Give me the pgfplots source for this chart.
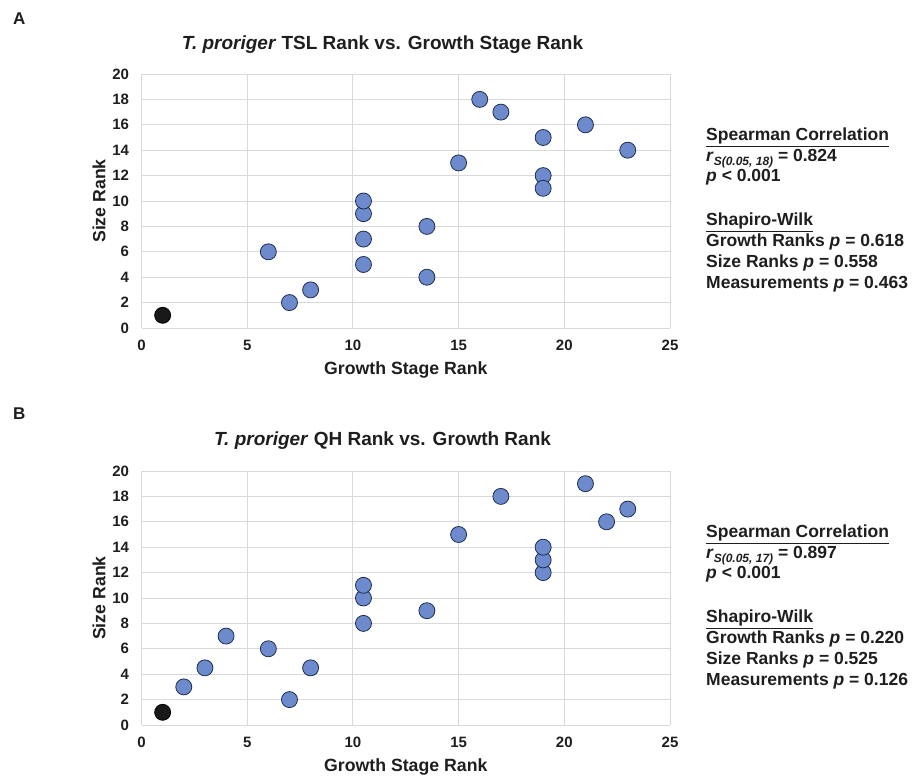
\documentclass[border=0pt]{standalone}
\usepackage{pgfplots}
\pgfplotsset{compat=1.18}
\usepackage{fontspec}
\setmainfont{Liberation Sans}
\definecolor{ptfill}{RGB}{108,138,204}
\definecolor{ptedge}{RGB}{30,45,80}
\definecolor{gridc}{RGB}{217,217,217}
\definecolor{txt}{RGB}{30,30,30}
\newcommand{\fs}[1]{\fontsize{#1}{#1}\selectfont}
\pgfplotsset{
  panel/.style={
    scale only axis, width=528.5pt, height=254pt,
    xmin=0, xmax=25, ymin=0, ymax=20,
    xtick={0,5,...,25}, ytick={0,2,...,20},
    grid=major, major grid style={draw=gridc, line width=0.9pt},
    axis line style={draw=none},
    major tick length=0pt,
    /pgf/number format/assume math mode=true,
    tick label style={font=\fs{15}\bfseries, text=txt},
    xticklabel style={anchor=center, yshift=-17pt},
    yticklabel style={anchor=east, xshift=-9pt},
    clip=false,
  },
  pts/.style={only marks, mark=*, mark size=8pt, mark options={fill=ptfill, draw=ptedge, line width=0.8pt}},
  blk/.style={only marks, mark=*, mark size=8pt, mark options={fill=black!90, draw=black, line width=0.8pt}},
}
\begin{document}
\begin{tikzpicture}[x=1pt,y=1pt]
\path[use as bounding box] (0,0) rectangle (915,776);
% Panel A
\begin{axis}[panel, at={(141.5pt,448pt)}, anchor=south west]
\addplot[pts] coordinates {
(6,6) (7,2) (8,3) (10.5,5) (10.5,7) (10.5,9) (10.5,10) (13.5,4) (13.5,8)
(15,13) (16,18) (17,17) (19,15) (19,12) (19,11) (21,16) (23,14)};
\addplot[blk] coordinates {(1,1)};
\end{axis}
% Panel B
\begin{axis}[panel, at={(141.5pt,51pt)}, anchor=south west]
\addplot[pts] coordinates {
(2,3) (3,4.5) (4,7) (6,6) (7,2) (8,4.5) (10.5,8) (10.5,10) (10.5,11) (13.5,9)
(15,15) (17,18) (19,12) (19,13) (19,14) (21,19) (22,16) (23,17)};
\addplot[blk] coordinates {(1,1)};
\end{axis}
\begin{scope}[every node/.style={text=txt, inner sep=0pt}]
% Panel A texts
\node[anchor=west] at (13,757) {\fs{17}\bfseries A};
\node at (382.5,731) {\fs{19}\bfseries\textit{T. proriger} TSL Rank vs. Growth Stage Rank};
\node at (405.8,406) {\fs{17.7}\bfseries Growth Stage Rank};
\node[rotate=90] at (99,575) {\fs{17.7}\bfseries Size Rank};
\begin{scope}[every node/.append style={anchor=base west, font=\fs{17.5}\bfseries}]
\node at (706,635) {\underline{Spearman Correlation}};
\node at (706,614) {\textit{r}\raisebox{-0.35ex}{\fs{12}\textit{S(0.05, 18)}} = 0.824};
\node at (706,594) {\textit{p} < 0.001};
\node at (706,550) {\underline{Shapiro-Wilk}};
\node at (706,529) {Growth Ranks \textit{p} = 0.618};
\node at (706,508) {Size Ranks \textit{p} = 0.558};
\node at (706,487) {Measurements \textit{p} = 0.463};
\end{scope}
% Panel B texts
\node[anchor=west] at (13,362) {\fs{17}\bfseries B};
\node at (382.5,335) {\fs{19}\bfseries\textit{T. proriger} QH Rank vs. Growth Rank};
\node at (405.8,9) {\fs{17.7}\bfseries Growth Stage Rank};
\node[rotate=90] at (99,178) {\fs{17.7}\bfseries Size Rank};
\begin{scope}[every node/.append style={anchor=base west, font=\fs{17.5}\bfseries}]
\node at (706,238) {\underline{Spearman Correlation}};
\node at (706,217) {\textit{r}\raisebox{-0.35ex}{\fs{12}\textit{S(0.05, 17)}} = 0.897};
\node at (706,197) {\textit{p} < 0.001};
\node at (706,153) {\underline{Shapiro-Wilk}};
\node at (706,132) {Growth Ranks \textit{p} = 0.220};
\node at (706,111) {Size Ranks \textit{p} = 0.525};
\node at (706,90) {Measurements \textit{p} = 0.126};
\end{scope}
\end{scope}
\end{tikzpicture}
\end{document}
